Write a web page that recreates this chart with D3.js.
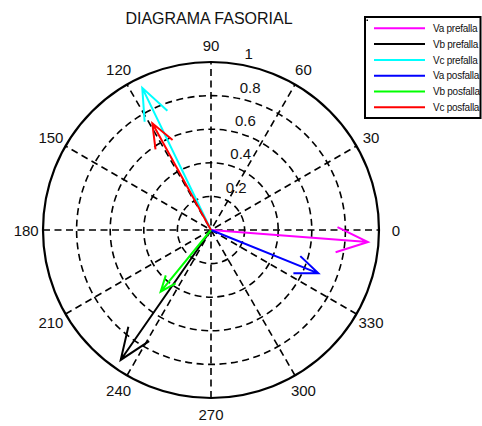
<!DOCTYPE html>
<html>
<head>
<meta charset="utf-8">
<script src="https://cdn.jsdelivr.net/npm/d3@7"></script>
<style>
  html, body { margin: 0; padding: 0; background: #fff; }
  svg { display: block; font-family: "Liberation Sans", Arial, sans-serif; }
</style>
</head>
<body>
<svg id="chart" width="482" height="426"></svg>
<script>
// ---- data ----
const seriesNames = ["Va prefalla", "Vb prefalla", "Vc prefalla", "Va posfalla", "Vb posfalla", "Vc posfalla"];
const magnitudes  = [0.937, 0.942, 0.940, 0.689, 0.474, 0.725];
const anglesDeg   = [-4.4, 235.2, 115.8, -22.0, 230.8, 118.8];
const seriesColors = ["#ff00ff", "#000000", "#00ffff", "#0000ff", "#00ff00", "#ff0000"];
const ringTicks = [0.2, 0.4, 0.6, 0.8, 1];
const ringLabels = ["0.2", "0.4", "0.6", "0.8", "1"];
const angleTicks = [0, 30, 60, 90, 120, 150, 180, 210, 240, 270, 300, 330];
const titleText = "DIAGRAMA FASORIAL";

// ---- layout ----
const svg = d3.select("#chart");
const cx = 211, cy = 230, R = 168;
const r = d3.scaleLinear().domain([0, 1]).range([0, R]);
const toRad = d => d * Math.PI / 180;
const px = (rv, deg) => cx + r(rv) * Math.cos(toRad(deg));
const py = (rv, deg) => cy - r(rv) * Math.sin(toRad(deg));

const g = svg.append("g");

g.append("circle").attr("cx", cx).attr("cy", cy).attr("r", r(1)).attr("fill", "#fff");

// dashed rings (inner)
g.selectAll("circle.ring").data(ringTicks.filter(d => d < 1)).enter()
  .append("circle").attr("class", "ring")
  .attr("cx", cx).attr("cy", cy).attr("r", d => r(d))
  .attr("fill", "none").attr("stroke", "#000").attr("stroke-width", 1.6)
  .attr("stroke-dasharray", "7,4.5");

// spokes (full diameters every 30 deg)
g.selectAll("line.spoke").data(angleTicks.slice(0, 6)).enter()
  .append("line").attr("class", "spoke")
  .attr("x1", d => px(1, d + 180)).attr("y1", d => py(1, d + 180))
  .attr("x2", d => px(1, d)).attr("y2", d => py(1, d))
  .attr("stroke", "#000").attr("stroke-width", 1.6)
  .attr("stroke-dasharray", "7,4.5");

// outer solid circle
g.append("circle").attr("cx", cx).attr("cy", cy).attr("r", r(1))
  .attr("fill", "none").attr("stroke", "#000").attr("stroke-width", 2.2);

// ring labels
g.selectAll("text.rlab").data(ringTicks).enter()
  .append("text").attr("class", "rlab")
  .attr("x", d => px(d, 82) + 10)
  .attr("y", d => py(d + 0.025, 82))
  .attr("font-size", 15).attr("fill", "#111")
  .text((d, i) => ringLabels[i]);

// angle labels
g.selectAll("text.alab").data(angleTicks).enter()
  .append("text").attr("class", "alab")
  .attr("x", d => px(1.1, d)).attr("y", d => py(1.1, d))
  .attr("text-anchor", "middle").attr("dominant-baseline", "central")
  .attr("font-size", 15).attr("fill", "#111")
  .text(d => d);

// arrows (compass style)
const arrowShape = [[0, 0], [1, 0], [0.8, 0.08], [1, 0], [0.8, -0.08]];
const lineGen = d3.line().x(p => p[0]).y(p => p[1]);
seriesNames.forEach((name, i) => {
  const m = magnitudes[i], a = toRad(anglesDeg[i]);
  const zx = m * Math.cos(a), zy = m * Math.sin(a);
  const pts = arrowShape.map(([u, v]) => {
    const X = u * zx - v * zy, Y = u * zy + v * zx;
    return [cx + r(X), cy - r(Y)];
  });
  g.append("path").attr("d", lineGen(pts))
    .attr("fill", "none").attr("stroke", seriesColors[i])
    .attr("stroke-width", 2).attr("stroke-linejoin", "miter");
});

// title
svg.append("text").attr("x", 209).attr("y", 24)
  .attr("text-anchor", "middle").attr("font-size", 16).attr("fill", "#111")
  .text(titleText);

// legend
const lg = svg.append("g");
lg.append("rect").attr("x", 365).attr("y", 17).attr("width", 115.5).attr("height", 101)
  .attr("fill", "#fff").attr("stroke", "#000").attr("stroke-width", 2);
lg.append("rect").attr("x", 366.5).attr("y", 19.5).attr("width", 1.5).attr("height", 1.5).attr("fill", "#000");
const ly = d3.scaleLinear().domain([0, seriesNames.length - 1]).range([28.3, 107.3]);
seriesNames.forEach((name, i) => {
  lg.append("line").attr("x1", 374).attr("x2", 425)
    .attr("y1", ly(i)).attr("y2", ly(i))
    .attr("stroke", seriesColors[i]).attr("stroke-width", 2);
  lg.append("text").attr("x", 433).attr("y", ly(i) + 3.6)
    .attr("font-size", 10).attr("letter-spacing", -0.25).attr("fill", "#111")
    .text(name);
});
</script>
</body>
</html>
